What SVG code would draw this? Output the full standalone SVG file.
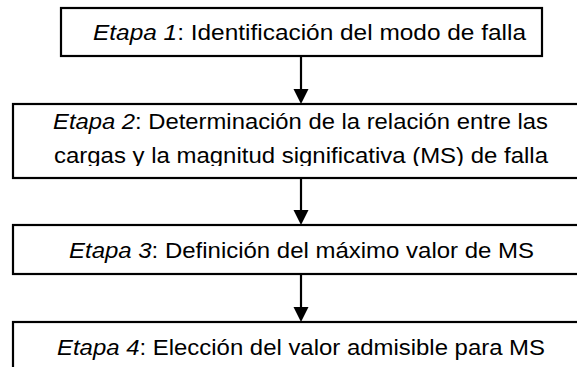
<svg xmlns="http://www.w3.org/2000/svg" width="577" height="367" viewBox="0 0 577 367">
<style>
.box{fill:#fff;stroke:#000;stroke-width:2.2}
.t{font-family:"Liberation Sans",Arial,sans-serif;font-size:22px;fill:#000}
.i{font-style:italic}
.c{stroke:#000;stroke-width:2.2;fill:none}
.h{fill:#000}
</style>
<defs>
<clipPath id="clip2"><rect x="0" y="104" width="577" height="62"/></clipPath>
</defs>
<g id="connectors">
<line class="c" x1="301" y1="56" x2="301" y2="90"/>
<polygon class="h" points="293.5,89 308.5,89 301,104"/>
<line class="c" x1="301" y1="178" x2="301" y2="211"/>
<polygon class="h" points="293.5,210 308.5,210 301,225"/>
<line class="c" x1="301" y1="274" x2="301" y2="308"/>
<polygon class="h" points="293.5,307 308.5,307 301,322"/>
</g>
<g id="etapa1">
<rect class="box" x="61" y="8" width="481" height="48"/>
<text class="t" x="93" y="40" textLength="433" lengthAdjust="spacingAndGlyphs"><tspan class="i">Etapa 1</tspan>: Identificación del modo de falla</text>
</g>
<g id="etapa2">
<rect class="box" x="13" y="104" width="578" height="74"/>
<g clip-path="url(#clip2)">
<text class="t" x="53" y="129" textLength="495" lengthAdjust="spacingAndGlyphs"><tspan class="i">Etapa 2</tspan>: Determinación de la relación entre las</text>
<text class="t" x="54" y="163" textLength="494" lengthAdjust="spacingAndGlyphs">cargas y la magnitud significativa (MS) de falla</text>
</g>
</g>
<g id="etapa3">
<rect class="box" x="13" y="225" width="578" height="49"/>
<text class="t" x="69" y="258" textLength="465" lengthAdjust="spacingAndGlyphs"><tspan class="i">Etapa 3</tspan>: Definición del máximo valor de MS</text>
</g>
<g id="etapa4">
<rect class="box" x="13" y="322" width="578" height="60"/>
<text class="t" x="57" y="355" textLength="488" lengthAdjust="spacingAndGlyphs"><tspan class="i">Etapa 4</tspan>: Elección del valor admisible para MS</text>
</g>
</svg>
